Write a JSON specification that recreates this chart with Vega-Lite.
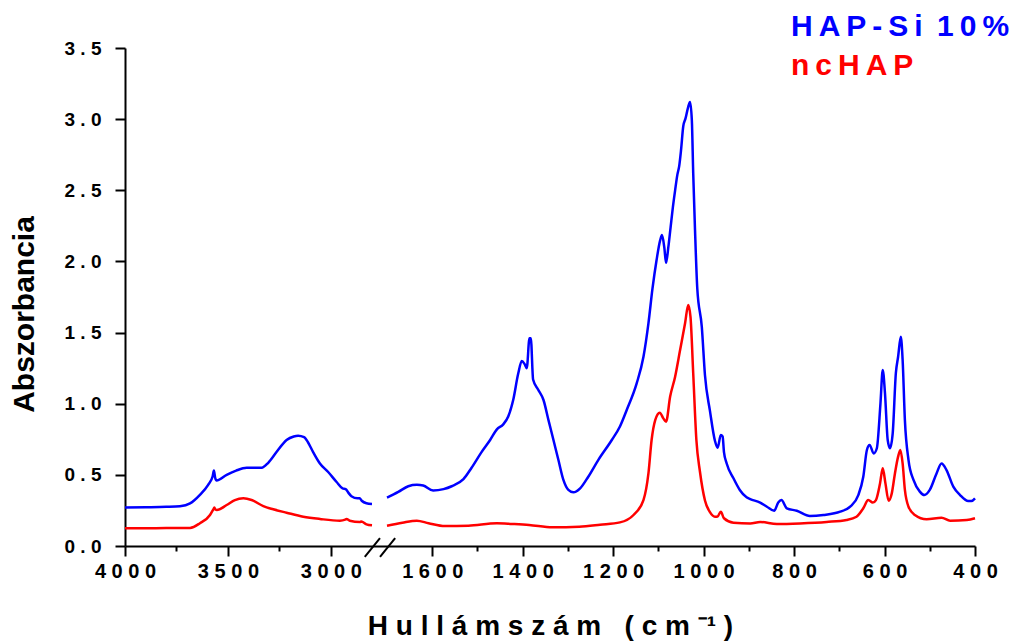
{
  "$schema": "https://vega.github.io/schema/vega-lite/v6.json",
  "width": 850,
  "height": 498,
  "autosize": "none",
  "padding": {"left": 125, "top": 48, "right": 46, "bottom": 96},
  "background": "white",
  "config": {"view": {"stroke": null}, "font": "Liberation Sans"},
  "datasets": {
    "spectra": [
      {"series": "HAP-Si 10%", "seg": "high", "wn": 4000, "a": 0.27},
      {"series": "HAP-Si 10%", "seg": "high", "wn": 3900, "a": 0.272},
      {"series": "HAP-Si 10%", "seg": "high", "wn": 3800, "a": 0.275},
      {"series": "HAP-Si 10%", "seg": "high", "wn": 3733, "a": 0.28},
      {"series": "HAP-Si 10%", "seg": "high", "wn": 3684, "a": 0.3},
      {"series": "HAP-Si 10%", "seg": "high", "wn": 3636, "a": 0.36},
      {"series": "HAP-Si 10%", "seg": "high", "wn": 3596, "a": 0.43},
      {"series": "HAP-Si 10%", "seg": "high", "wn": 3574, "a": 0.49},
      {"series": "HAP-Si 10%", "seg": "high", "wn": 3568, "a": 0.53},
      {"series": "HAP-Si 10%", "seg": "high", "wn": 3562, "a": 0.48},
      {"series": "HAP-Si 10%", "seg": "high", "wn": 3555, "a": 0.46},
      {"series": "HAP-Si 10%", "seg": "high", "wn": 3506, "a": 0.5},
      {"series": "HAP-Si 10%", "seg": "high", "wn": 3460, "a": 0.53},
      {"series": "HAP-Si 10%", "seg": "high", "wn": 3409, "a": 0.55},
      {"series": "HAP-Si 10%", "seg": "high", "wn": 3336, "a": 0.55},
      {"series": "HAP-Si 10%", "seg": "high", "wn": 3304, "a": 0.585},
      {"series": "HAP-Si 10%", "seg": "high", "wn": 3264, "a": 0.66},
      {"series": "HAP-Si 10%", "seg": "high", "wn": 3215, "a": 0.745},
      {"series": "HAP-Si 10%", "seg": "high", "wn": 3180, "a": 0.77},
      {"series": "HAP-Si 10%", "seg": "high", "wn": 3159, "a": 0.775},
      {"series": "HAP-Si 10%", "seg": "high", "wn": 3130, "a": 0.765},
      {"series": "HAP-Si 10%", "seg": "high", "wn": 3118, "a": 0.745},
      {"series": "HAP-Si 10%", "seg": "high", "wn": 3086, "a": 0.66},
      {"series": "HAP-Si 10%", "seg": "high", "wn": 3053, "a": 0.58},
      {"series": "HAP-Si 10%", "seg": "high", "wn": 3013, "a": 0.52},
      {"series": "HAP-Si 10%", "seg": "high", "wn": 2972, "a": 0.45},
      {"series": "HAP-Si 10%", "seg": "high", "wn": 2943, "a": 0.405},
      {"series": "HAP-Si 10%", "seg": "high", "wn": 2928, "a": 0.4},
      {"series": "HAP-Si 10%", "seg": "high", "wn": 2915, "a": 0.375},
      {"series": "HAP-Si 10%", "seg": "high", "wn": 2900, "a": 0.35},
      {"series": "HAP-Si 10%", "seg": "high", "wn": 2870, "a": 0.335},
      {"series": "HAP-Si 10%", "seg": "high", "wn": 2860, "a": 0.335},
      {"series": "HAP-Si 10%", "seg": "high", "wn": 2850, "a": 0.318},
      {"series": "HAP-Si 10%", "seg": "high", "wn": 2827, "a": 0.3},
      {"series": "HAP-Si 10%", "seg": "high", "wn": 2800, "a": 0.295},
      {"series": "HAP-Si 10%", "seg": "low", "wn": 1700, "a": 0.34},
      {"series": "HAP-Si 10%", "seg": "low", "wn": 1675, "a": 0.38},
      {"series": "HAP-Si 10%", "seg": "low", "wn": 1653, "a": 0.42},
      {"series": "HAP-Si 10%", "seg": "low", "wn": 1634, "a": 0.43},
      {"series": "HAP-Si 10%", "seg": "low", "wn": 1620, "a": 0.425},
      {"series": "HAP-Si 10%", "seg": "low", "wn": 1598, "a": 0.39},
      {"series": "HAP-Si 10%", "seg": "low", "wn": 1575, "a": 0.4},
      {"series": "HAP-Si 10%", "seg": "low", "wn": 1557, "a": 0.42},
      {"series": "HAP-Si 10%", "seg": "low", "wn": 1531, "a": 0.47},
      {"series": "HAP-Si 10%", "seg": "low", "wn": 1513, "a": 0.55},
      {"series": "HAP-Si 10%", "seg": "low", "wn": 1491, "a": 0.66},
      {"series": "HAP-Si 10%", "seg": "low", "wn": 1472, "a": 0.745},
      {"series": "HAP-Si 10%", "seg": "low", "wn": 1457, "a": 0.82},
      {"series": "HAP-Si 10%", "seg": "low", "wn": 1443, "a": 0.855},
      {"series": "HAP-Si 10%", "seg": "low", "wn": 1432, "a": 0.91},
      {"series": "HAP-Si 10%", "seg": "low", "wn": 1421, "a": 1.026},
      {"series": "HAP-Si 10%", "seg": "low", "wn": 1410, "a": 1.21},
      {"series": "HAP-Si 10%", "seg": "low", "wn": 1402, "a": 1.3},
      {"series": "HAP-Si 10%", "seg": "low", "wn": 1396, "a": 1.28},
      {"series": "HAP-Si 10%", "seg": "low", "wn": 1391, "a": 1.25},
      {"series": "HAP-Si 10%", "seg": "low", "wn": 1385, "a": 1.46},
      {"series": "HAP-Si 10%", "seg": "low", "wn": 1382, "a": 1.46},
      {"series": "HAP-Si 10%", "seg": "low", "wn": 1377, "a": 1.17},
      {"series": "HAP-Si 10%", "seg": "low", "wn": 1366, "a": 1.1},
      {"series": "HAP-Si 10%", "seg": "low", "wn": 1354, "a": 1.026},
      {"series": "HAP-Si 10%", "seg": "low", "wn": 1343, "a": 0.885},
      {"series": "HAP-Si 10%", "seg": "low", "wn": 1332, "a": 0.745},
      {"series": "HAP-Si 10%", "seg": "low", "wn": 1321, "a": 0.604},
      {"series": "HAP-Si 10%", "seg": "low", "wn": 1310, "a": 0.464},
      {"series": "HAP-Si 10%", "seg": "low", "wn": 1299, "a": 0.394},
      {"series": "HAP-Si 10%", "seg": "low", "wn": 1288, "a": 0.377},
      {"series": "HAP-Si 10%", "seg": "low", "wn": 1273, "a": 0.405},
      {"series": "HAP-Si 10%", "seg": "low", "wn": 1255, "a": 0.487},
      {"series": "HAP-Si 10%", "seg": "low", "wn": 1233, "a": 0.604},
      {"series": "HAP-Si 10%", "seg": "low", "wn": 1203, "a": 0.745},
      {"series": "HAP-Si 10%", "seg": "low", "wn": 1185, "a": 0.84},
      {"series": "HAP-Si 10%", "seg": "low", "wn": 1170, "a": 0.956},
      {"series": "HAP-Si 10%", "seg": "low", "wn": 1148, "a": 1.143},
      {"series": "HAP-Si 10%", "seg": "low", "wn": 1133, "a": 1.33},
      {"series": "HAP-Si 10%", "seg": "low", "wn": 1122, "a": 1.565},
      {"series": "HAP-Si 10%", "seg": "low", "wn": 1113, "a": 1.81},
      {"series": "HAP-Si 10%", "seg": "low", "wn": 1104, "a": 2.01},
      {"series": "HAP-Si 10%", "seg": "low", "wn": 1096, "a": 2.15},
      {"series": "HAP-Si 10%", "seg": "low", "wn": 1092, "a": 2.185},
      {"series": "HAP-Si 10%", "seg": "low", "wn": 1087, "a": 2.1},
      {"series": "HAP-Si 10%", "seg": "low", "wn": 1083, "a": 1.99},
      {"series": "HAP-Si 10%", "seg": "low", "wn": 1078, "a": 2.1},
      {"series": "HAP-Si 10%", "seg": "low", "wn": 1073, "a": 2.24},
      {"series": "HAP-Si 10%", "seg": "low", "wn": 1068, "a": 2.38},
      {"series": "HAP-Si 10%", "seg": "low", "wn": 1063, "a": 2.5},
      {"series": "HAP-Si 10%", "seg": "low", "wn": 1058, "a": 2.61},
      {"series": "HAP-Si 10%", "seg": "low", "wn": 1054, "a": 2.67},
      {"series": "HAP-Si 10%", "seg": "low", "wn": 1050, "a": 2.78},
      {"series": "HAP-Si 10%", "seg": "low", "wn": 1045, "a": 2.95},
      {"series": "HAP-Si 10%", "seg": "low", "wn": 1040, "a": 3.005},
      {"series": "HAP-Si 10%", "seg": "low", "wn": 1034, "a": 3.087},
      {"series": "HAP-Si 10%", "seg": "low", "wn": 1030, "a": 3.12},
      {"series": "HAP-Si 10%", "seg": "low", "wn": 1026, "a": 2.99},
      {"series": "HAP-Si 10%", "seg": "low", "wn": 1023, "a": 2.62},
      {"series": "HAP-Si 10%", "seg": "low", "wn": 1019, "a": 2.22},
      {"series": "HAP-Si 10%", "seg": "low", "wn": 1014, "a": 1.81},
      {"series": "HAP-Si 10%", "seg": "low", "wn": 1004, "a": 1.54},
      {"series": "HAP-Si 10%", "seg": "low", "wn": 997, "a": 1.2},
      {"series": "HAP-Si 10%", "seg": "low", "wn": 986, "a": 0.95},
      {"series": "HAP-Si 10%", "seg": "low", "wn": 975, "a": 0.74},
      {"series": "HAP-Si 10%", "seg": "low", "wn": 969, "a": 0.69},
      {"series": "HAP-Si 10%", "seg": "low", "wn": 962, "a": 0.78},
      {"series": "HAP-Si 10%", "seg": "low", "wn": 958, "a": 0.77},
      {"series": "HAP-Si 10%", "seg": "low", "wn": 955, "a": 0.66},
      {"series": "HAP-Si 10%", "seg": "low", "wn": 949, "a": 0.58},
      {"series": "HAP-Si 10%", "seg": "low", "wn": 934, "a": 0.476},
      {"series": "HAP-Si 10%", "seg": "low", "wn": 920, "a": 0.394},
      {"series": "HAP-Si 10%", "seg": "low", "wn": 905, "a": 0.342},
      {"series": "HAP-Si 10%", "seg": "low", "wn": 897, "a": 0.33},
      {"series": "HAP-Si 10%", "seg": "low", "wn": 875, "a": 0.305},
      {"series": "HAP-Si 10%", "seg": "low", "wn": 860, "a": 0.276},
      {"series": "HAP-Si 10%", "seg": "low", "wn": 844, "a": 0.248},
      {"series": "HAP-Si 10%", "seg": "low", "wn": 835, "a": 0.305},
      {"series": "HAP-Si 10%", "seg": "low", "wn": 828, "a": 0.323},
      {"series": "HAP-Si 10%", "seg": "low", "wn": 816, "a": 0.265},
      {"series": "HAP-Si 10%", "seg": "low", "wn": 794, "a": 0.248},
      {"series": "HAP-Si 10%", "seg": "low", "wn": 765, "a": 0.211},
      {"series": "HAP-Si 10%", "seg": "low", "wn": 735, "a": 0.218},
      {"series": "HAP-Si 10%", "seg": "low", "wn": 698, "a": 0.241},
      {"series": "HAP-Si 10%", "seg": "low", "wn": 676, "a": 0.276},
      {"series": "HAP-Si 10%", "seg": "low", "wn": 658, "a": 0.358},
      {"series": "HAP-Si 10%", "seg": "low", "wn": 647, "a": 0.487},
      {"series": "HAP-Si 10%", "seg": "low", "wn": 639, "a": 0.675},
      {"series": "HAP-Si 10%", "seg": "low", "wn": 633, "a": 0.71},
      {"series": "HAP-Si 10%", "seg": "low", "wn": 624, "a": 0.65},
      {"series": "HAP-Si 10%", "seg": "low", "wn": 617, "a": 0.687},
      {"series": "HAP-Si 10%", "seg": "low", "wn": 609, "a": 1.003},
      {"series": "HAP-Si 10%", "seg": "low", "wn": 604, "a": 1.237},
      {"series": "HAP-Si 10%", "seg": "low", "wn": 599, "a": 1.073},
      {"series": "HAP-Si 10%", "seg": "low", "wn": 593, "a": 0.745},
      {"series": "HAP-Si 10%", "seg": "low", "wn": 588, "a": 0.687},
      {"series": "HAP-Si 10%", "seg": "low", "wn": 582, "a": 0.79},
      {"series": "HAP-Si 10%", "seg": "low", "wn": 575, "a": 1.214},
      {"series": "HAP-Si 10%", "seg": "low", "wn": 570, "a": 1.33},
      {"series": "HAP-Si 10%", "seg": "low", "wn": 564, "a": 1.47},
      {"series": "HAP-Si 10%", "seg": "low", "wn": 560, "a": 1.307},
      {"series": "HAP-Si 10%", "seg": "low", "wn": 555, "a": 0.885},
      {"series": "HAP-Si 10%", "seg": "low", "wn": 547, "a": 0.604},
      {"series": "HAP-Si 10%", "seg": "low", "wn": 536, "a": 0.464},
      {"series": "HAP-Si 10%", "seg": "low", "wn": 522, "a": 0.382},
      {"series": "HAP-Si 10%", "seg": "low", "wn": 512, "a": 0.358},
      {"series": "HAP-Si 10%", "seg": "low", "wn": 500, "a": 0.394},
      {"series": "HAP-Si 10%", "seg": "low", "wn": 485, "a": 0.51},
      {"series": "HAP-Si 10%", "seg": "low", "wn": 474, "a": 0.58},
      {"series": "HAP-Si 10%", "seg": "low", "wn": 463, "a": 0.534},
      {"series": "HAP-Si 10%", "seg": "low", "wn": 448, "a": 0.417},
      {"series": "HAP-Si 10%", "seg": "low", "wn": 433, "a": 0.358},
      {"series": "HAP-Si 10%", "seg": "low", "wn": 415, "a": 0.316},
      {"series": "HAP-Si 10%", "seg": "low", "wn": 408, "a": 0.316},
      {"series": "HAP-Si 10%", "seg": "low", "wn": 400, "a": 0.335},
      {"series": "ncHAP", "seg": "high", "wn": 4000, "a": 0.124},
      {"series": "ncHAP", "seg": "high", "wn": 3900, "a": 0.125},
      {"series": "ncHAP", "seg": "high", "wn": 3800, "a": 0.126},
      {"series": "ncHAP", "seg": "high", "wn": 3684, "a": 0.127},
      {"series": "ncHAP", "seg": "high", "wn": 3636, "a": 0.16},
      {"series": "ncHAP", "seg": "high", "wn": 3587, "a": 0.218},
      {"series": "ncHAP", "seg": "high", "wn": 3570, "a": 0.26},
      {"series": "ncHAP", "seg": "high", "wn": 3566, "a": 0.27},
      {"series": "ncHAP", "seg": "high", "wn": 3560, "a": 0.255},
      {"series": "ncHAP", "seg": "high", "wn": 3554, "a": 0.253},
      {"series": "ncHAP", "seg": "high", "wn": 3506, "a": 0.288},
      {"series": "ncHAP", "seg": "high", "wn": 3466, "a": 0.323},
      {"series": "ncHAP", "seg": "high", "wn": 3425, "a": 0.335},
      {"series": "ncHAP", "seg": "high", "wn": 3385, "a": 0.323},
      {"series": "ncHAP", "seg": "high", "wn": 3328, "a": 0.28},
      {"series": "ncHAP", "seg": "high", "wn": 3280, "a": 0.258},
      {"series": "ncHAP", "seg": "high", "wn": 3215, "a": 0.234},
      {"series": "ncHAP", "seg": "high", "wn": 3134, "a": 0.206},
      {"series": "ncHAP", "seg": "high", "wn": 3053, "a": 0.19},
      {"series": "ncHAP", "seg": "high", "wn": 2956, "a": 0.178},
      {"series": "ncHAP", "seg": "high", "wn": 2930, "a": 0.185},
      {"series": "ncHAP", "seg": "high", "wn": 2924, "a": 0.19},
      {"series": "ncHAP", "seg": "high", "wn": 2908, "a": 0.178},
      {"series": "ncHAP", "seg": "high", "wn": 2859, "a": 0.169},
      {"series": "ncHAP", "seg": "high", "wn": 2852, "a": 0.172},
      {"series": "ncHAP", "seg": "high", "wn": 2827, "a": 0.152},
      {"series": "ncHAP", "seg": "high", "wn": 2800, "a": 0.145},
      {"series": "ncHAP", "seg": "low", "wn": 1700, "a": 0.143},
      {"series": "ncHAP", "seg": "low", "wn": 1666, "a": 0.164},
      {"series": "ncHAP", "seg": "low", "wn": 1634, "a": 0.178},
      {"series": "ncHAP", "seg": "low", "wn": 1608, "a": 0.16},
      {"series": "ncHAP", "seg": "low", "wn": 1572, "a": 0.14},
      {"series": "ncHAP", "seg": "low", "wn": 1520, "a": 0.143},
      {"series": "ncHAP", "seg": "low", "wn": 1457, "a": 0.16},
      {"series": "ncHAP", "seg": "low", "wn": 1423, "a": 0.155},
      {"series": "ncHAP", "seg": "low", "wn": 1386, "a": 0.148},
      {"series": "ncHAP", "seg": "low", "wn": 1334, "a": 0.131},
      {"series": "ncHAP", "seg": "low", "wn": 1275, "a": 0.136},
      {"series": "ncHAP", "seg": "low", "wn": 1229, "a": 0.15},
      {"series": "ncHAP", "seg": "low", "wn": 1185, "a": 0.166},
      {"series": "ncHAP", "seg": "low", "wn": 1155, "a": 0.218},
      {"series": "ncHAP", "seg": "low", "wn": 1133, "a": 0.323},
      {"series": "ncHAP", "seg": "low", "wn": 1122, "a": 0.51},
      {"series": "ncHAP", "seg": "low", "wn": 1115, "a": 0.745},
      {"series": "ncHAP", "seg": "low", "wn": 1107, "a": 0.885},
      {"series": "ncHAP", "seg": "low", "wn": 1097, "a": 0.937},
      {"series": "ncHAP", "seg": "low", "wn": 1089, "a": 0.897},
      {"series": "ncHAP", "seg": "low", "wn": 1083, "a": 0.874},
      {"series": "ncHAP", "seg": "low", "wn": 1074, "a": 1.05},
      {"series": "ncHAP", "seg": "low", "wn": 1063, "a": 1.19},
      {"series": "ncHAP", "seg": "low", "wn": 1052, "a": 1.377},
      {"series": "ncHAP", "seg": "low", "wn": 1041, "a": 1.565},
      {"series": "ncHAP", "seg": "low", "wn": 1034, "a": 1.694},
      {"series": "ncHAP", "seg": "low", "wn": 1029, "a": 1.61},
      {"series": "ncHAP", "seg": "low", "wn": 1023, "a": 1.214},
      {"series": "ncHAP", "seg": "low", "wn": 1016, "a": 0.745},
      {"series": "ncHAP", "seg": "low", "wn": 1008, "a": 0.52},
      {"series": "ncHAP", "seg": "low", "wn": 997, "a": 0.32},
      {"series": "ncHAP", "seg": "low", "wn": 986, "a": 0.238},
      {"series": "ncHAP", "seg": "low", "wn": 975, "a": 0.206},
      {"series": "ncHAP", "seg": "low", "wn": 969, "a": 0.208},
      {"series": "ncHAP", "seg": "low", "wn": 962, "a": 0.241},
      {"series": "ncHAP", "seg": "low", "wn": 955, "a": 0.195},
      {"series": "ncHAP", "seg": "low", "wn": 934, "a": 0.164},
      {"series": "ncHAP", "seg": "low", "wn": 897, "a": 0.159},
      {"series": "ncHAP", "seg": "low", "wn": 875, "a": 0.169},
      {"series": "ncHAP", "seg": "low", "wn": 838, "a": 0.155},
      {"series": "ncHAP", "seg": "low", "wn": 787, "a": 0.159},
      {"series": "ncHAP", "seg": "low", "wn": 728, "a": 0.169},
      {"series": "ncHAP", "seg": "low", "wn": 684, "a": 0.183},
      {"series": "ncHAP", "seg": "low", "wn": 662, "a": 0.206},
      {"series": "ncHAP", "seg": "low", "wn": 647, "a": 0.265},
      {"series": "ncHAP", "seg": "low", "wn": 636, "a": 0.323},
      {"series": "ncHAP", "seg": "low", "wn": 626, "a": 0.305},
      {"series": "ncHAP", "seg": "low", "wn": 619, "a": 0.323},
      {"series": "ncHAP", "seg": "low", "wn": 610, "a": 0.44},
      {"series": "ncHAP", "seg": "low", "wn": 604, "a": 0.546},
      {"series": "ncHAP", "seg": "low", "wn": 598, "a": 0.44},
      {"series": "ncHAP", "seg": "low", "wn": 591, "a": 0.318},
      {"series": "ncHAP", "seg": "low", "wn": 584, "a": 0.37},
      {"series": "ncHAP", "seg": "low", "wn": 577, "a": 0.51},
      {"series": "ncHAP", "seg": "low", "wn": 570, "a": 0.628},
      {"series": "ncHAP", "seg": "low", "wn": 565, "a": 0.675},
      {"series": "ncHAP", "seg": "low", "wn": 560, "a": 0.58},
      {"series": "ncHAP", "seg": "low", "wn": 555, "a": 0.394},
      {"series": "ncHAP", "seg": "low", "wn": 547, "a": 0.276},
      {"series": "ncHAP", "seg": "low", "wn": 533, "a": 0.218},
      {"series": "ncHAP", "seg": "low", "wn": 507, "a": 0.188},
      {"series": "ncHAP", "seg": "low", "wn": 474, "a": 0.199},
      {"series": "ncHAP", "seg": "low", "wn": 455, "a": 0.178},
      {"series": "ncHAP", "seg": "low", "wn": 418, "a": 0.183},
      {"series": "ncHAP", "seg": "low", "wn": 400, "a": 0.195}
    ],
    "breaks": [
      {"wn1": 2835, "wn2": 2213, "a1": -0.077, "a2": 0.056},
      {"wn1": 2213, "wn2": 1682, "a1": -0.077, "a2": 0.056}
    ]
  },
  "layer": [
    {
      "data": {"name": "spectra"},
      "mark": {"type": "line", "strokeWidth": 2.5, "interpolate": "monotone"},
      "encoding": {
        "x": {
          "field": "wn", "type": "quantitative",
          "scale": {"domain": [4000, 2800, 1700, 400], "range": [0, 247, 262, 850], "nice": false, "zero": false},
          "axis": {
            "values": [4000, 3750, 3500, 3250, 3000, 1600, 1500, 1400, 1300, 1200, 1100, 1000, 900, 800, 700, 600, 500, 400],
            "format": "d",
            "labelExpr": "((datum.value % 500 == 0 && datum.value > 2000) || (datum.value < 2000 && datum.value % 200 == 0)) ? join(split(datum.label, ''), ' ') : ''",
            "tickSize": {"condition": {"test": "(datum.value % 500 == 0 && datum.value > 2000) || (datum.value < 2000 && datum.value % 200 == 0)", "value": 10}, "value": 5},
            "labelFont": "Liberation Sans", "labelFontWeight": "bold", "labelFontSize": 20, "labelColor": "black",
            "labelOverlap": false, "labelPadding": 5, "labelFlush": false,
            "domainColor": "black", "domainWidth": 2, "tickColor": "black", "tickWidth": 2, "grid": false,
            "title": "H u l l á m s z á m \u00a0 ( c m ⁻¹ )",
            "titleFont": "Liberation Sans", "titleFontSize": 28, "titleFontWeight": "bold", "titleColor": "black", "titlePadding": 31
          }
        },
        "y": {
          "field": "a", "type": "quantitative",
          "scale": {"domain": [0, 3.5], "nice": false, "zero": false},
          "axis": {
            "values": [0, 0.25, 0.5, 0.75, 1, 1.25, 1.5, 1.75, 2, 2.25, 2.5, 2.75, 3, 3.25, 3.5],
            "format": ".1f",
            "labelExpr": "datum.value % 0.5 == 0 ? join(split(datum.label, ''), ' ') : ''",
            "tickSize": {"condition": {"test": "datum.value % 0.5 == 0", "value": 10}, "value": 5},
            "labelFont": "Liberation Sans", "labelFontWeight": "bold", "labelFontSize": 19, "labelColor": "black",
            "labelOverlap": false, "labelPadding": 14, "labelFlush": false,
            "domainColor": "black", "domainWidth": 2, "tickColor": "black", "tickWidth": 2, "grid": false,
            "title": "Abszorbancia",
            "titleFont": "Liberation Sans", "titleFontSize": 30, "titleFontWeight": "bold", "titleColor": "black",
            "titlePadding": 25, "titleY": 266
          }
        },
        "color": {
          "field": "series", "type": "nominal",
          "scale": {"domain": ["HAP-Si 10%", "ncHAP"], "range": ["#0000ff", "#ff0000"]},
          "legend": {
            "orient": "none", "legendX": 636, "legendY": -36, "title": null,
            "padding": 0, "symbolSize": 0, "symbolStrokeWidth": 0, "symbolOpacity": 0, "labelOffset": 0,
            "labelFont": "Liberation Sans", "labelFontSize": 30, "labelFontWeight": "bold", "rowPadding": 9,
            "labelLimit": 400,
            "labelExpr": "datum.label == 'ncHAP' ? 'n\u2009c\u2009H\u2009A\u2009P' : 'H\u2009A\u2009P\u2009-\u2009S\u2009i\u2009 1\u20090\u2009%'",
            "encode": {"labels": {"update": {"fill": {"signal": "datum.value == 'ncHAP' ? '#ff0000' : '#0000ff'"}}}}
          }
        },
        "detail": {"field": "seg", "type": "nominal"}
      }
    },
    {
      "data": {"name": "breaks"},
      "mark": {"type": "rule", "color": "black", "strokeWidth": 2},
      "encoding": {
        "x": {"field": "wn1", "type": "quantitative", "scale": {"domain": [4000, 2800, 1700, 400], "range": [0, 247, 262, 850], "nice": false, "zero": false}},
        "x2": {"field": "wn2"},
        "y": {"field": "a1", "type": "quantitative", "scale": {"domain": [0, 3.5], "nice": false, "zero": false}},
        "y2": {"field": "a2"}
      }
    }
  ]
}
